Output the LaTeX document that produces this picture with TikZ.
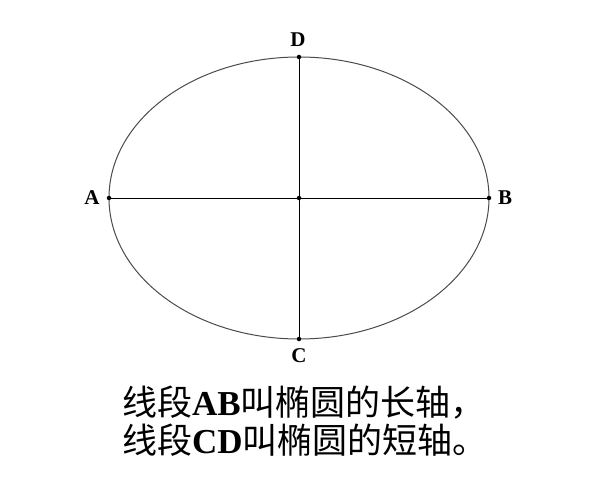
\documentclass[tikz,border=0pt]{standalone}
\usepackage{fontspec}
\setmainfont{Liberation Serif}
\newfontfamily\cjk{Noto Sans CJK SC}
\begin{document}
\begin{tikzpicture}[x=1pt,y=-1pt,
  dot/.style={circle,fill=black,inner sep=0pt,minimum size=4.5pt},
  lbl/.style={font=\fontsize{21}{21}\selectfont\bfseries,inner sep=0pt},
  axisline/.style={draw=black,line width=1pt},
  caption/.style={font=\fontsize{35}{37}\selectfont,inner sep=0pt,anchor=west}]
\useasboundingbox[fill=white] (0,0) rectangle (600,500);
\draw[draw=black!70,line width=1pt] (299,198) ellipse [x radius=190, y radius=141];
\coordinate (O) at (299,198);
\coordinate (A) at (109,198);
\coordinate (B) at (489,198);
\coordinate (D) at (299,57);
\coordinate (C) at (299,339);
\draw[axisline] (A) -- (B);
\draw[axisline] (D) -- (C);
\foreach \p in {O,A,B,C,D} \node[dot] at (\p) {};
\node[lbl] (lA) at (92,198) {A};
\node[lbl] (lB) at (505,198) {B};
\node[lbl] (lD) at (298,40) {D};
\node[lbl] (lC) at (299,356) {C};
\node[caption] (t1) at (122,403) {{\cjk 线段}{\bfseries AB}{\cjk 叫椭圆的长轴，}};
\node[caption] (t2) at (122,440) {{\cjk 线段}{\bfseries CD}{\cjk 叫椭圆的短轴。}};
\end{tikzpicture}
\end{document}
